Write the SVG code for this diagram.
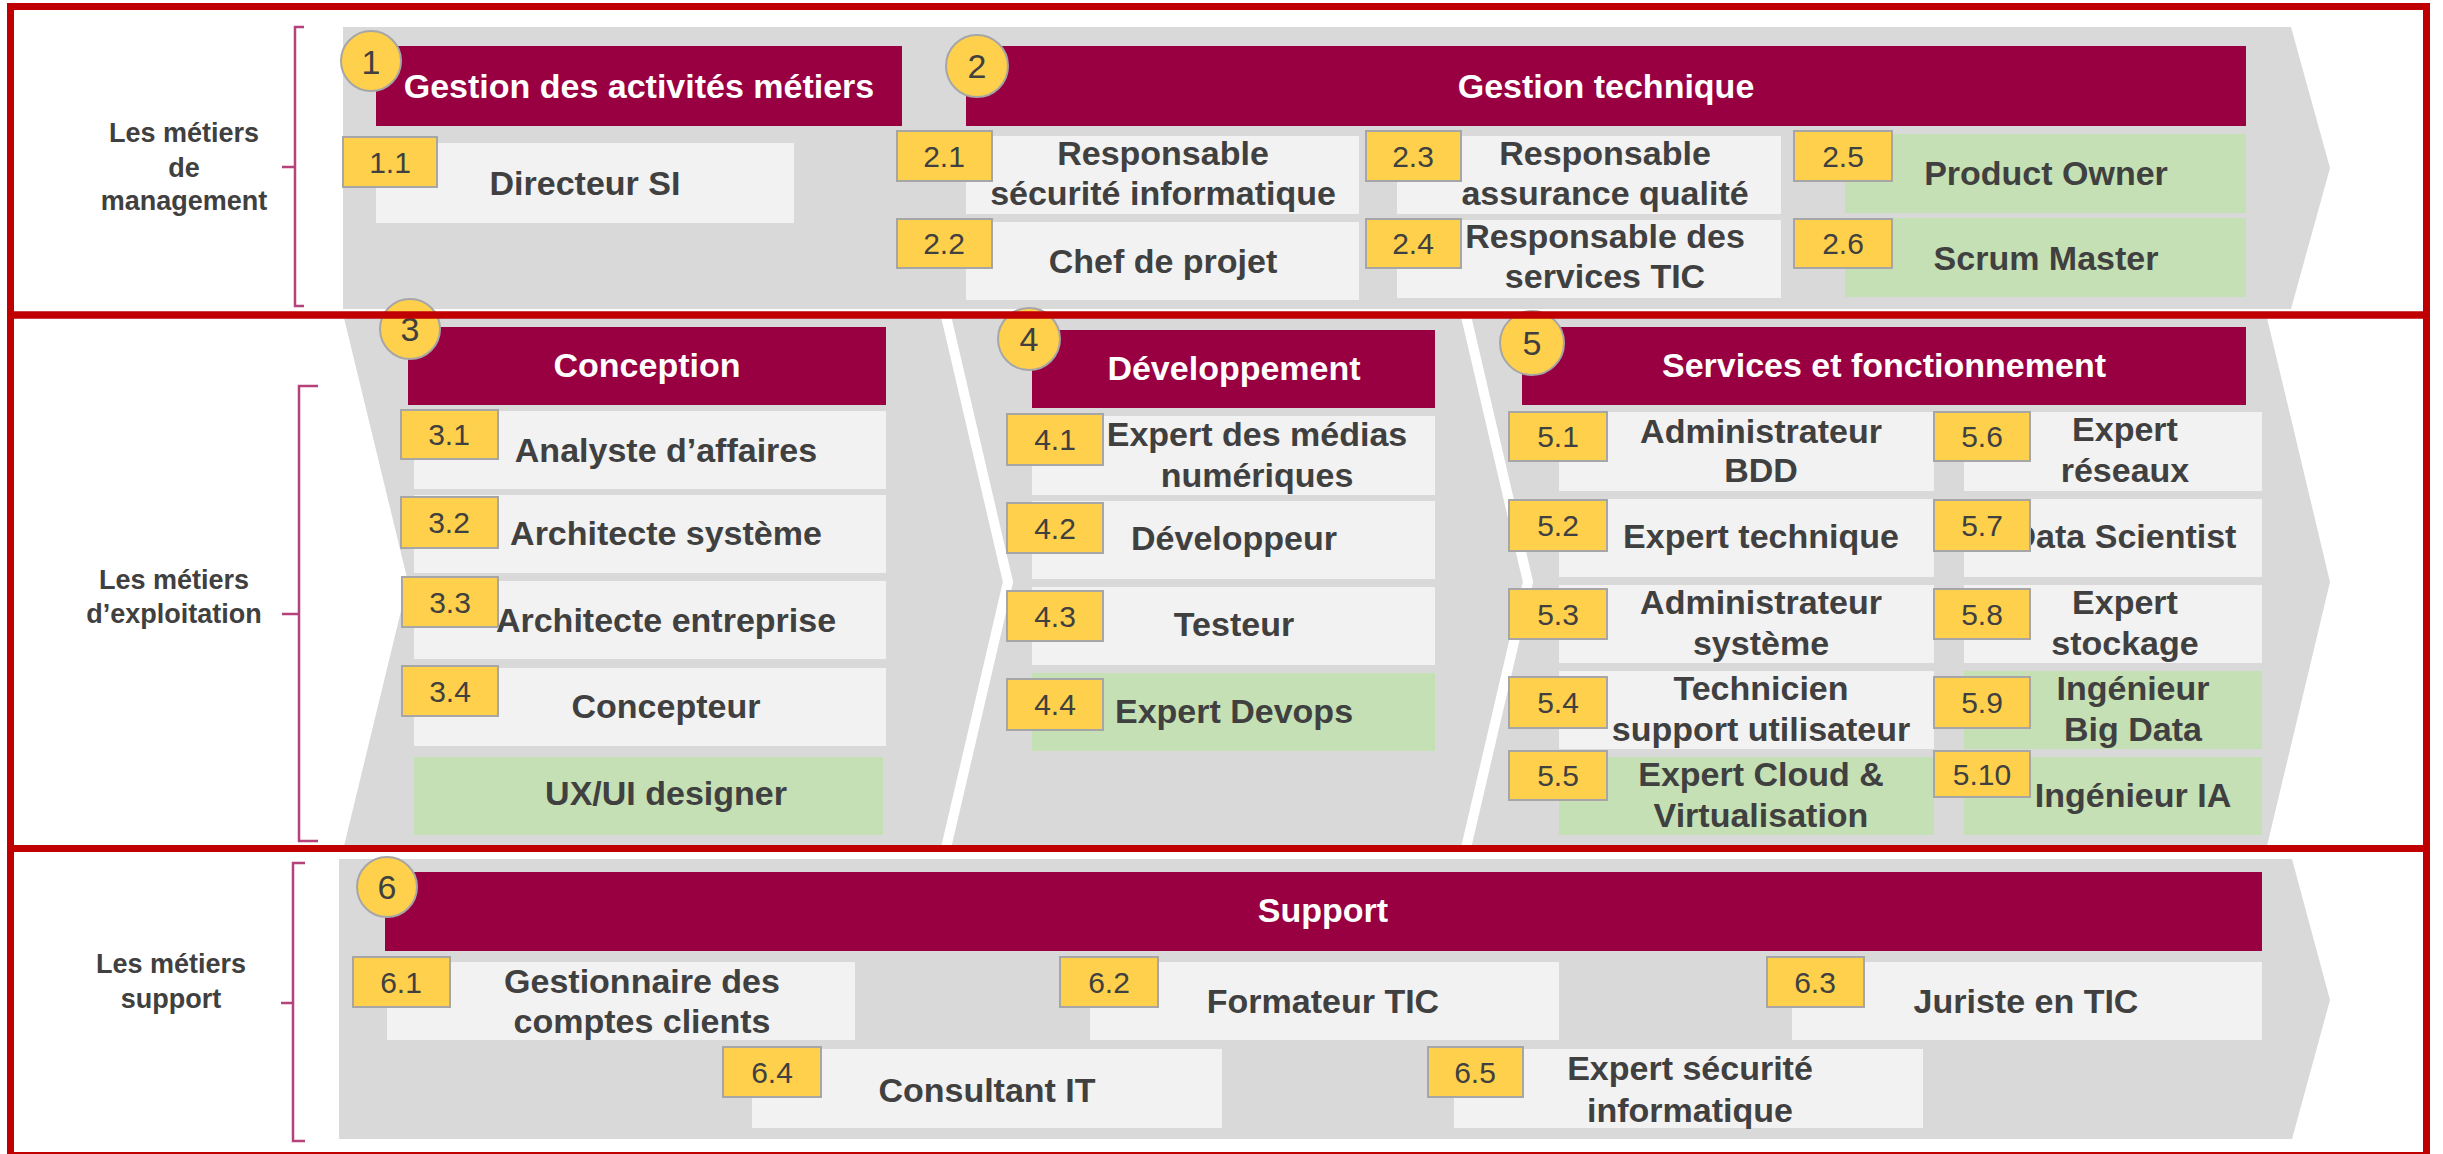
<svg xmlns="http://www.w3.org/2000/svg" width="2443" height="1154" viewBox="0 0 2443 1154">
<style>
text{font-family:"Liberation Sans",Arial,sans-serif}
.band{fill:#D9D9D9}
.hdr{fill:#990042}
.box{fill:#F2F2F2}
.grn{fill:#C5E0B4}
.tag{fill:#FFD04B;stroke:#A6A6A6;stroke-width:2}
.ht{fill:#fff;font-size:34px;font-weight:bold;text-anchor:middle}
.bt{fill:#404040;font-size:34px;font-weight:bold;text-anchor:middle}
.tt{fill:#404040;font-size:30px;text-anchor:middle}
.ct{fill:#404040;font-size:34px;text-anchor:middle}
.lt{fill:#404040;font-size:27px;font-weight:bold;text-anchor:middle}
.frame{fill:none;stroke:#C00000;stroke-width:7}
.brk{fill:none;stroke:#B5427A;stroke-width:2.5}
.chev{fill:none;stroke:#FFFFFF;stroke-width:10}
</style>
<rect width="2443" height="1154" fill="#FFFFFF"/>

<!-- bands -->
<g id="bands">
<polygon class="band" points="343,27 2291,27 2330,168 2291,309 343,309"/>
<polygon class="band" points="344,318 2267,318 2330,582 2267,846 344,846 408,582"/>
<polyline class="chev" points="946,316 1008,582 946,848"/>
<polyline class="chev" points="1466,316 1528,582 1466,848"/>
<polygon class="band" points="339,859 2292,859 2330,1000 2292,1139 339,1139"/>
</g>

<!-- side labels -->
<g id="label-management">
<text class="lt" x="184" y="142">Les métiers</text>
<text class="lt" x="184" y="177">de</text>
<text class="lt" x="184" y="210">management</text>
</g>
<g id="label-exploitation">
<text class="lt" x="174" y="589">Les métiers</text>
<text class="lt" x="174" y="623">d’exploitation</text>
</g>
<g id="label-support">
<text class="lt" x="171" y="973">Les métiers</text>
<text class="lt" x="171" y="1008">support</text>
</g>
<g id="brackets">
<path class="brk" d="M304,27 L295,27 L295,306 L304,306 M295,167 L282,167"/>
<path class="brk" d="M318,386 L299,386 L299,841 L318,841 M299,614 L282,614"/>
<path class="brk" d="M305,863 L293,863 L293,1141 L305,1141 M293,1003 L281,1003"/>
</g>
<g id="connectors"></g>

<!-- Row 1 -->
<g id="h1">
<rect class="hdr" x="376" y="46" width="526" height="80"/>
<text class="ht" x="639" y="98">Gestion des activités métiers</text>
<circle class="tag" cx="371" cy="61" r="30"/>
<text class="ct" x="371" y="74">1</text>
</g>
<g id="h2">
<rect class="hdr" x="966" y="46" width="1280" height="80"/>
<text class="ht" x="1606" y="98">Gestion technique</text>
<circle class="tag" cx="977" cy="66" r="31"/>
<text class="ct" x="977" y="78">2</text>
</g>
<g id="n1-1">
<rect class="box" x="376" y="143" width="418" height="80"/>
<text class="bt" x="585" y="195">Directeur SI</text>
<rect class="tag" x="343" y="137" width="94" height="50"/>
<text class="tt" x="390" y="173">1.1</text>
</g>
<g id="n2-1">
<rect class="box" x="966" y="136" width="393" height="78"/>
<text class="bt" x="1163" y="165">Responsable</text>
<text class="bt" x="1163" y="205">sécurité informatique</text>
<rect class="tag" x="897" y="131" width="95" height="50"/>
<text class="tt" x="944" y="167">2.1</text>
</g>
<g id="n2-2">
<rect class="box" x="966" y="222" width="393" height="78"/>
<text class="bt" x="1163" y="273">Chef de projet</text>
<rect class="tag" x="897" y="219" width="95" height="49"/>
<text class="tt" x="944" y="254">2.2</text>
</g>
<g id="n2-3">
<rect class="box" x="1397" y="136" width="384" height="78"/>
<text class="bt" x="1605" y="165">Responsable</text>
<text class="bt" x="1605" y="205">assurance qualité</text>
<rect class="tag" x="1366" y="131" width="95" height="50"/>
<text class="tt" x="1413" y="167">2.3</text>
</g>
<g id="n2-4">
<rect class="box" x="1397" y="220" width="384" height="78"/>
<text class="bt" x="1605" y="248">Responsable des</text>
<text class="bt" x="1605" y="288">services TIC</text>
<rect class="tag" x="1366" y="219" width="95" height="49"/>
<text class="tt" x="1413" y="254">2.4</text>
</g>
<g id="n2-5">
<rect class="grn" x="1845" y="134" width="401" height="79"/>
<text class="bt" x="2046" y="185">Product Owner</text>
<rect class="tag" x="1794" y="131" width="98" height="50"/>
<text class="tt" x="1843" y="167">2.5</text>
</g>
<g id="n2-6">
<rect class="grn" x="1845" y="218" width="401" height="79"/>
<text class="bt" x="2046" y="270">Scrum Master</text>
<rect class="tag" x="1794" y="219" width="98" height="49"/>
<text class="tt" x="1843" y="254">2.6</text>
</g>

<!-- Row 2 : Conception -->
<g id="h3">
<rect class="hdr" x="408" y="327" width="478" height="78"/>
<text class="ht" x="647" y="377">Conception</text>
<circle class="tag" cx="410" cy="329" r="30"/>
<text class="ct" x="410" y="341">3</text>
</g>
<g id="n3-1">
<rect class="box" x="414" y="411" width="472" height="78"/>
<text class="bt" x="666" y="462">Analyste d’affaires</text>
<rect class="tag" x="401" y="410" width="97" height="49"/>
<text class="tt" x="449" y="445">3.1</text>
</g>
<g id="n3-2">
<rect class="box" x="414" y="495" width="472" height="78"/>
<text class="bt" x="666" y="545">Architecte système</text>
<rect class="tag" x="401" y="497" width="97" height="51"/>
<text class="tt" x="449" y="533">3.2</text>
</g>
<g id="n3-3">
<rect class="box" x="414" y="581" width="472" height="78"/>
<text class="bt" x="666" y="632">Architecte entreprise</text>
<rect class="tag" x="402" y="577" width="96" height="50"/>
<text class="tt" x="450" y="613">3.3</text>
</g>
<g id="n3-4">
<rect class="box" x="414" y="668" width="472" height="78"/>
<text class="bt" x="666" y="718">Concepteur</text>
<rect class="tag" x="402" y="666" width="96" height="50"/>
<text class="tt" x="450" y="702">3.4</text>
</g>
<g id="n3-5">
<rect class="grn" x="414" y="757" width="469" height="78"/>
<text class="bt" x="666" y="805">UX/UI designer</text>
</g>

<!-- Row 2 : Développement -->
<g id="h4">
<rect class="hdr" x="1032" y="330" width="403" height="78"/>
<text class="ht" x="1234" y="380">Développement</text>
<circle class="tag" cx="1029" cy="339" r="31"/>
<text class="ct" x="1029" y="351">4</text>
</g>
<g id="n4-1">
<rect class="box" x="1032" y="416" width="403" height="79"/>
<text class="bt" x="1257" y="446">Expert des médias</text>
<text class="bt" x="1257" y="487">numériques</text>
<rect class="tag" x="1007" y="414" width="96" height="51"/>
<text class="tt" x="1055" y="450">4.1</text>
</g>
<g id="n4-2">
<rect class="box" x="1032" y="501" width="403" height="78"/>
<text class="bt" x="1234" y="550">Développeur</text>
<rect class="tag" x="1007" y="503" width="96" height="50"/>
<text class="tt" x="1055" y="539">4.2</text>
</g>
<g id="n4-3">
<rect class="box" x="1032" y="587" width="403" height="78"/>
<text class="bt" x="1234" y="636">Testeur</text>
<rect class="tag" x="1007" y="591" width="96" height="50"/>
<text class="tt" x="1055" y="627">4.3</text>
</g>
<g id="n4-4">
<rect class="grn" x="1032" y="673" width="403" height="78"/>
<text class="bt" x="1234" y="723">Expert Devops</text>
<rect class="tag" x="1007" y="679" width="96" height="51"/>
<text class="tt" x="1055" y="715">4.4</text>
</g>

<!-- Row 2 : Services -->
<g id="h5">
<rect class="hdr" x="1522" y="327" width="724" height="78"/>
<text class="ht" x="1884" y="377">Services et fonctionnement</text>
<circle class="tag" cx="1532" cy="343" r="32"/>
<text class="ct" x="1532" y="355">5</text>
</g>
<g id="n5-1">
<rect class="box" x="1559" y="412" width="375" height="79"/>
<text class="bt" x="1761" y="443">Administrateur</text>
<text class="bt" x="1761" y="482">BDD</text>
<rect class="tag" x="1509" y="412" width="98" height="49"/>
<text class="tt" x="1558" y="447">5.1</text>
</g>
<g id="n5-2">
<rect class="box" x="1559" y="499" width="375" height="78"/>
<text class="bt" x="1761" y="548">Expert technique</text>
<rect class="tag" x="1509" y="500" width="98" height="51"/>
<text class="tt" x="1558" y="536">5.2</text>
</g>
<g id="n5-3">
<rect class="box" x="1559" y="585" width="375" height="78"/>
<text class="bt" x="1761" y="614">Administrateur</text>
<text class="bt" x="1761" y="655">système</text>
<rect class="tag" x="1509" y="589" width="98" height="50"/>
<text class="tt" x="1558" y="625">5.3</text>
</g>
<g id="n5-4">
<rect class="box" x="1559" y="671" width="375" height="78"/>
<text class="bt" x="1761" y="700">Technicien</text>
<text class="bt" x="1761" y="741">support utilisateur</text>
<rect class="tag" x="1509" y="677" width="98" height="51"/>
<text class="tt" x="1558" y="713">5.4</text>
</g>
<g id="n5-5">
<rect class="grn" x="1559" y="757" width="375" height="78"/>
<text class="bt" x="1761" y="786">Expert Cloud &amp;</text>
<text class="bt" x="1761" y="827">Virtualisation</text>
<rect class="tag" x="1509" y="751" width="98" height="49"/>
<text class="tt" x="1558" y="786">5.5</text>
</g>
<g id="n5-6">
<rect class="box" x="1964" y="412" width="298" height="79"/>
<text class="bt" x="2125" y="441">Expert</text>
<text class="bt" x="2125" y="482">réseaux</text>
<rect class="tag" x="1934" y="412" width="96" height="49"/>
<text class="tt" x="1982" y="447">5.6</text>
</g>
<g id="n5-7">
<rect class="box" x="1964" y="499" width="298" height="78"/>
<text class="bt" x="2124" y="548">Data Scientist</text>
<rect class="tag" x="1934" y="500" width="96" height="51"/>
<text class="tt" x="1982" y="536">5.7</text>
</g>
<g id="n5-8">
<rect class="box" x="1964" y="585" width="298" height="78"/>
<text class="bt" x="2125" y="614">Expert</text>
<text class="bt" x="2125" y="655">stockage</text>
<rect class="tag" x="1934" y="589" width="96" height="50"/>
<text class="tt" x="1982" y="625">5.8</text>
</g>
<g id="n5-9">
<rect class="grn" x="1964" y="671" width="298" height="78"/>
<text class="bt" x="2133" y="700">Ingénieur</text>
<text class="bt" x="2133" y="741">Big Data</text>
<rect class="tag" x="1934" y="677" width="96" height="51"/>
<text class="tt" x="1982" y="713">5.9</text>
</g>
<g id="n5-10">
<rect class="grn" x="1964" y="757" width="298" height="78"/>
<text class="bt" x="2133" y="807">Ingénieur IA</text>
<rect class="tag" x="1934" y="751" width="96" height="46"/>
<text class="tt" x="1982" y="785">5.10</text>
</g>

<!-- Row 3 -->
<g id="h6">
<rect class="hdr" x="385" y="872" width="1877" height="79"/>
<text class="ht" x="1323" y="922">Support</text>
<circle class="tag" cx="387" cy="887" r="30"/>
<text class="ct" x="387" y="899">6</text>
</g>
<g id="n6-1">
<rect class="box" x="387" y="962" width="468" height="78"/>
<text class="bt" x="642" y="993">Gestionnaire des</text>
<text class="bt" x="642" y="1033">comptes clients</text>
<rect class="tag" x="353" y="957" width="97" height="50"/>
<text class="tt" x="401" y="993">6.1</text>
</g>
<g id="n6-2">
<rect class="box" x="1090" y="962" width="469" height="78"/>
<text class="bt" x="1323" y="1013">Formateur TIC</text>
<rect class="tag" x="1060" y="957" width="98" height="50"/>
<text class="tt" x="1109" y="993">6.2</text>
</g>
<g id="n6-3">
<rect class="box" x="1792" y="962" width="470" height="78"/>
<text class="bt" x="2026" y="1013">Juriste en TIC</text>
<rect class="tag" x="1767" y="957" width="97" height="50"/>
<text class="tt" x="1815" y="993">6.3</text>
</g>
<g id="n6-4">
<rect class="box" x="752" y="1049" width="470" height="79"/>
<text class="bt" x="987" y="1102">Consultant IT</text>
<rect class="tag" x="723" y="1047" width="98" height="50"/>
<text class="tt" x="772" y="1083">6.4</text>
</g>
<g id="n6-5">
<rect class="box" x="1454" y="1049" width="469" height="79"/>
<text class="bt" x="1690" y="1080">Expert sécurité</text>
<text class="bt" x="1690" y="1122">informatique</text>
<rect class="tag" x="1428" y="1047" width="95" height="50"/>
<text class="tt" x="1475" y="1083">6.5</text>
</g>

<!-- red frames -->
<g id="frames">
<rect class="frame" x="10.5" y="6.5" width="2416" height="308.5"/>
<rect class="frame" x="10.5" y="315" width="2416" height="533.5"/>
<rect class="frame" x="10.5" y="848.5" width="2416" height="307"/>
</g>
</svg>
